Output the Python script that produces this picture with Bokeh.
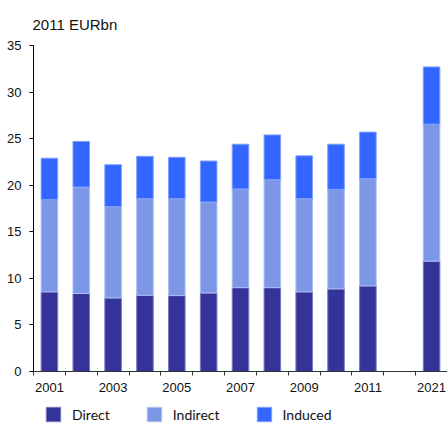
from bokeh.plotting import figure
from bokeh.models import ColumnDataSource, FixedTicker, Legend, LegendItem, Range1d
from bokeh.layouts import column
from bokeh.embed import file_html
from bokeh.resources import INLINE

years = ["2001", "2002", "2003", "2004", "2005", "2006", "2007", "2008", "2009", "2010", "2011", "2021"]
direct = [8.55, 8.37, 7.9, 8.18, 8.15, 8.43, 9.0, 9.0, 8.55, 8.87, 9.19, 11.85]
indirect = [9.9, 11.43, 9.8, 10.37, 10.4, 9.77, 10.6, 11.6, 10.0, 10.68, 11.51, 14.7]
induced = [4.45, 4.9, 4.5, 4.55, 4.45, 4.4, 4.8, 4.8, 4.6, 4.85, 5.0, 6.15]
series = ["Direct", "Indirect", "Induced"]
fills = ["#333399", "#7b97e6", "#3366ff"]
edges = ["#7a7ac0", "#aebff2", "#7f9fff"]
label_years = ["2001", "2003", "2005", "2007", "2009", "2011", "2021"]

# slot positions: consecutive years, then one empty slot before 2021
pos = []
for y in years:
    yi = int(y)
    pos.append(yi - 2001 if yi <= 2011 else 12)

src = ColumnDataSource(dict(x=pos, Direct=direct, Indirect=indirect, Induced=induced))

p = figure(width=447, height=394, output_backend="svg", toolbar_location=None,
           x_range=Range1d(-0.5, 12.5), y_range=Range1d(0, 35),
           min_border_left=33, min_border_right=0, min_border_top=0, min_border_bottom=0)
p.outline_line_color = None
p.grid.visible = False
p.background_fill_color = "white"
p.border_fill_color = "white"

rs = p.vbar_stack(series, x="x", width=0.52, source=src, color=fills,
                  line_color=edges, line_width=1)

p.title.text = "2011 EURbn"
p.title.text_font = "Liberation Sans"
p.title.text_font_size = "15px"
p.title.text_font_style = "normal"
p.title.text_color = "#111111"
p.title.offset = -1
p.title.standoff = 26

# y axis
p.yaxis.ticker = FixedTicker(ticks=[0, 5, 10, 15, 20, 25, 30, 35])
p.yaxis.major_tick_out = 4
p.yaxis.major_tick_in = 0
p.yaxis.minor_tick_out = 0
p.yaxis.minor_tick_in = 0
p.yaxis.axis_line_color = "#000000"
p.yaxis.major_tick_line_color = "#000000"
p.yaxis.major_label_text_font = "Liberation Sans"
p.yaxis.major_label_text_font_size = "13px"
p.yaxis.major_label_text_color = "#111111"
p.yaxis.major_label_standoff = 8

# x axis
lab_pos = [pos[years.index(l)] for l in label_years]
p.xaxis.ticker = FixedTicker(ticks=lab_pos, minor_ticks=[k - 0.5 for k in range(14)])
p.xaxis.major_label_overrides = {pp: l for pp, l in zip(lab_pos, label_years)}
p.xaxis.major_tick_out = 0
p.xaxis.major_tick_in = 0
p.xaxis.minor_tick_out = 4
p.xaxis.minor_tick_in = 0
p.xaxis.axis_line_color = "#333333"
p.xaxis.minor_tick_line_color = "#333333"
p.xaxis.major_label_text_font = "Liberation Sans"
p.xaxis.major_label_text_font_size = "13px"
p.xaxis.major_label_text_color = "#111111"
p.xaxis.major_label_standoff = 7

# legend in its own strip below the chart
leg = figure(width=447, height=29, output_backend="svg", toolbar_location=None,
             x_range=Range1d(0, 1), y_range=Range1d(0, 1),
             min_border_left=33, min_border_right=0, min_border_top=0, min_border_bottom=0)
leg.axis.visible = False
leg.grid.visible = False
leg.outline_line_color = None
nan = float("nan")
blank = ColumnDataSource(dict(x=[nan], y=[nan]))
leg_rs = [leg.rect(x="x", y="y", width=1, height=1, source=blank, fill_color=f, line_color=e)
          for f, e in zip(fills, edges)]
legend = Legend(items=[LegendItem(label=s, renderers=[r]) for s, r in zip(series, leg_rs)],
                orientation="horizontal", location=(11, 0))
legend.border_line_color = None
legend.background_fill_alpha = 0
legend.glyph_width = 18
legend.glyph_height = 18
legend.label_standoff = 10
legend.spacing = 35
legend.padding = 0
legend.margin = 0
legend.label_text_font = "Lato"
legend.label_text_font_size = "14px"
legend.label_text_color = "#111111"
leg.add_layout(legend)

layout = column(p, leg, spacing=0)
open("out.html", "w").write(file_html(layout, INLINE))
